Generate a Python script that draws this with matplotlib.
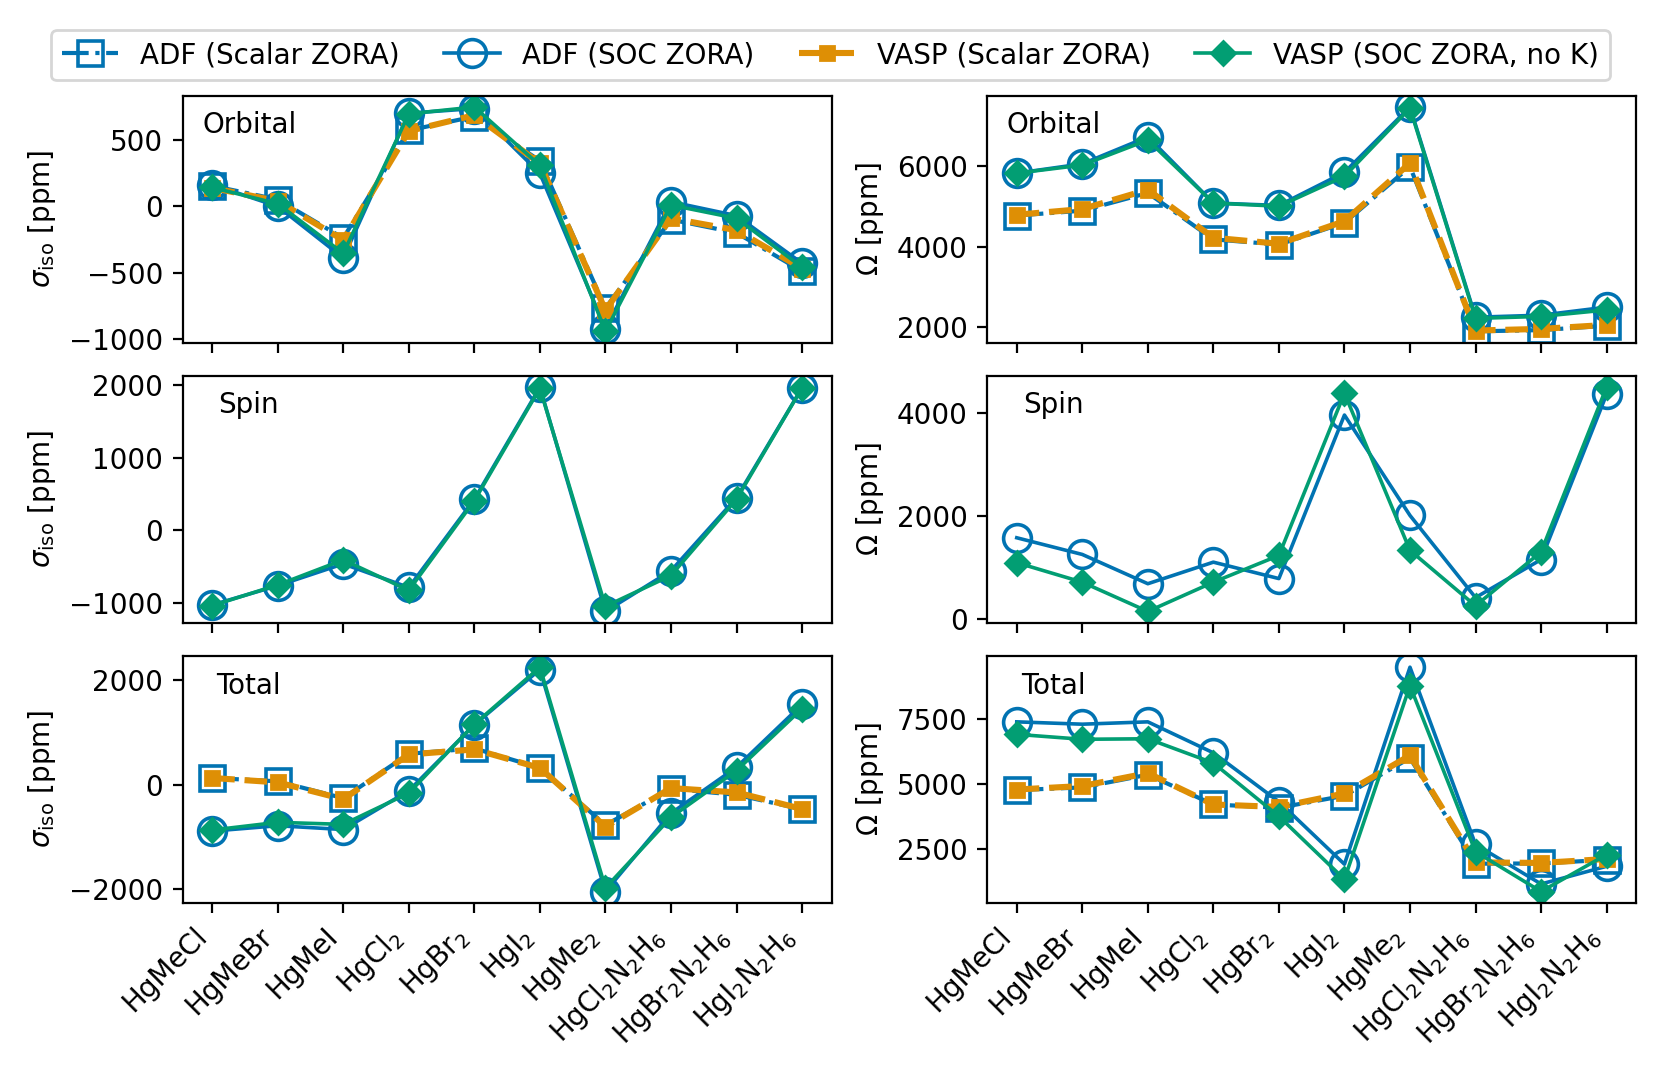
import matplotlib
matplotlib.use("Agg")
import matplotlib.pyplot as plt
import numpy as np

# Compuestos
compuestos = ["HgMeCl", "HgMeBr", "HgMeI", "HgCl$_2$", "HgBr$_2$", "HgI$_2$",
              "HgMe$_2$", "HgCl$_2$N$_2$H$_6$", "HgBr$_2$N$_2$H$_6$", "HgI$_2$N$_2$H$_6$"]

# sigma_iso orbital
sig_orb_adf_sc = [156, 52, -240, 575, 680, 345, -770, -100, -200, -490]
sig_orb_adf_soc = [165, 0, -390, 705, 740, 250, -925, 35, -70, -430]
sig_orb_vasp_sc = [140, 40, -255, 570, 690, 325, -785, -90, -180, -470]
sig_orb_vasp_soc = [143, 20, -355, 700, 752, 310, -945, 10, -90, -460]

# Omega orbital
om_orb_adf_sc = [4770, 4890, 5330, 4180, 4050, 4590, 5980, 1900, 1930, 2040]
om_orb_adf_soc = [5820, 6050, 6720, 5080, 5020, 5840, 7460, 2250, 2300, 2500]
om_orb_vasp_sc = [4790, 4930, 5410, 4220, 4070, 4630, 6070, 1920, 1960, 2060]
om_orb_vasp_soc = [5820, 6020, 6640, 5080, 5000, 5740, 7430, 2220, 2270, 2430]

# sigma_iso spin (solo SOC)
sig_spin_adf_soc = [-1030, -765, -465, -790, 425, 1970, -1120, -560, 445, 1960]
sig_spin_vasp_soc = [-1040, -755, -410, -830, 405, 1955, -1050, -625, 425, 1960]

# Omega spin (solo SOC)
om_spin_adf_soc = [1575, 1250, 680, 1100, 780, 3965, 2010, 410, 1150, 4370]
om_spin_vasp_soc = [1090, 710, 140, 710, 1230, 4390, 1330, 250, 1300, 4510]

# sigma_iso total
sig_tot_adf_sc = [130, 65, -258, 593, 697, 322, -774, -77, -194, -470]
sig_tot_adf_soc = [-890, -787, -860, -116, 1150, 2210, -2050, -548, 335, 1540]
sig_tot_vasp_sc = [129, 45, -277, 580, 677, 322, -806, -65, -148, -465]
sig_tot_vasp_soc = [-870, -722, -761, -161, 1160, 2255, -1980, -626, 271, 1460]

# Omega total
om_tot_adf_sc = [4780, 4880, 5370, 4225, 4100, 4560, 6010, 1950, 1960, 2100]
om_tot_adf_soc = [7400, 7310, 7400, 6210, 4330, 1930, 9500, 2690, 1170, 1850]
om_tot_vasp_sc = [4800, 4935, 5430, 4225, 4130, 4650, 6110, 2000, 1980, 2130]
om_tot_vasp_soc = [6920, 6730, 6750, 5820, 3770, 1350, 8790, 2410, 880, 2300]

azul = "#0173b2"
naranja = "#de8f05"
verde = "#029e73"

x = np.arange(len(compuestos))

fig, axes = plt.subplots(3, 2, figsize=(8.305, 5.38), dpi=200, sharex=True)
fig.subplots_adjust(left=0.110, right=0.985, top=0.911, bottom=0.161,
                    hspace=0.135, wspace=0.24)


def dibujar(ax, adf_sc, adf_soc, vasp_sc, vasp_soc):
    if adf_sc is not None:
        ax.plot(x, adf_sc, linestyle="-.", color=azul, marker="s", markersize=9,
                markerfacecolor="none", markeredgewidth=1.3, lw=1.5,
                label="ADF (Scalar ZORA)")
    ax.plot(x, adf_soc, linestyle="-", color=azul, marker="o", markersize=10,
            markerfacecolor="none", markeredgewidth=1.3, lw=1.3,
            label="ADF (SOC ZORA)")
    if vasp_sc is not None:
        ax.plot(x, vasp_sc, linestyle="--", color=naranja, marker="s", markersize=5,
                lw=2.2, label="VASP (Scalar ZORA)")
    ax.plot(x, vasp_soc, linestyle="-", color=verde, marker="D", markersize=6,
            lw=1.3, label="VASP (SOC ZORA, no K)")


dibujar(axes[0, 0], sig_orb_adf_sc, sig_orb_adf_soc, sig_orb_vasp_sc, sig_orb_vasp_soc)
dibujar(axes[0, 1], om_orb_adf_sc, om_orb_adf_soc, om_orb_vasp_sc, om_orb_vasp_soc)
dibujar(axes[1, 0], None, sig_spin_adf_soc, None, sig_spin_vasp_soc)
dibujar(axes[1, 1], None, om_spin_adf_soc, None, om_spin_vasp_soc)
dibujar(axes[2, 0], sig_tot_adf_sc, sig_tot_adf_soc, sig_tot_vasp_sc, sig_tot_vasp_soc)
dibujar(axes[2, 1], om_tot_adf_sc, om_tot_adf_soc, om_tot_vasp_sc, om_tot_vasp_soc)

etiquetas = ["Orbital", "Spin", "Total"]
posx = [0.03, 0.055, 0.052]
for fila in range(3):
    for col in range(2):
        ax = axes[fila, col]
        ax.text(posx[fila], 0.88, etiquetas[fila], transform=ax.transAxes,
                fontsize=10, va="center", ha="left")
    axes[fila, 0].set_ylabel(r"$\sigma_{\mathrm{iso}}$ [ppm]", fontsize=10)
    axes[fila, 1].set_ylabel(r"$\Omega$ [ppm]", fontsize=10)
    axes[fila, 0].tick_params(labelsize=10)
    axes[fila, 1].tick_params(labelsize=10)

axes[0, 0].set_yticks([-1000, -500, 0, 500])
axes[0, 1].set_yticks([2000, 4000, 6000])
axes[1, 0].set_yticks([-1000, 0, 1000, 2000])
axes[1, 1].set_yticks([0, 2000, 4000])
axes[2, 0].set_yticks([-2000, 0, 2000])
axes[2, 1].set_yticks([2500, 5000, 7500])

for col in range(2):
    axes[2, col].set_xticks(x)
    axes[2, col].set_xticklabels(compuestos, rotation=45, ha="right", fontsize=10)

handles, labels = axes[0, 0].get_legend_handles_labels()
fig.legend(handles, labels, loc="upper center", bbox_to_anchor=(0.5, 0.985),
           ncol=4, fontsize=10, frameon=True, columnspacing=1.6)

fig.savefig("out.png", dpi=200)
